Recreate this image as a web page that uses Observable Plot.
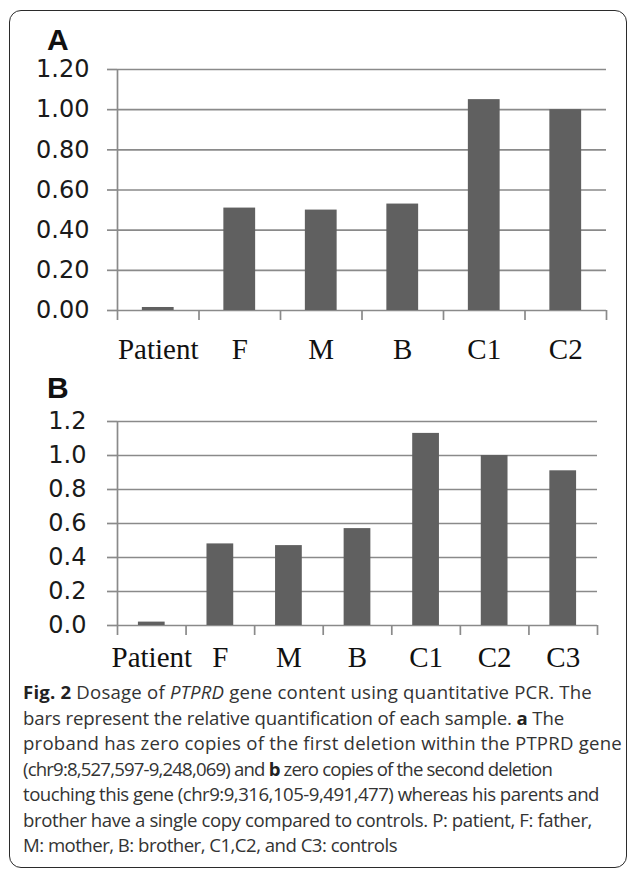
<!DOCTYPE html>
<html>
<head>
<meta charset="utf-8">
<script src="https://cdn.jsdelivr.net/npm/d3@7"></script>
<script src="https://cdn.jsdelivr.net/npm/@observablehq/plot@0.6"></script>
<style>
html, body { margin: 0; padding: 0; background: #fff; width: 627px; height: 872px; overflow: hidden; }
#frame { position: absolute; left: 9px; top: 10px; width: 618px; height: 858px; border: 1.5px solid #2b2b2b; border-radius: 12px; box-sizing: border-box; }
.plab { position: absolute; left: 47px; font-family: "Liberation Sans", Arial, sans-serif; font-weight: bold; font-size: 30px; line-height: 30px; color: #111; }
#panelA { position: absolute; left: 0; top: 0; }
#panelB { position: absolute; left: 0; top: 375px; }
#cap { position: absolute; left: 23px; top: 679px; font-family: "Open Sans", sans-serif; font-size: 18.6px; line-height: 25.5px; color: #333; white-space: nowrap; }
#cap b { font-weight: bold; color: #222; }
#cap span.ln { display: inline-block; }
</style>
</head>
<body>
<div id="frame"></div>
<div id="panelA"></div>
<div id="panelB"></div>
<div class="plab" style="top:25px">A</div>
<div class="plab" style="top:373px">B</div>
<div id="cap">
<div><span class="ln"><b>Fig. 2</b> Dosage of <i>PTPRD</i> gene content using quantitative PCR. The</span></div>
<div><span class="ln">bars represent the relative quantification of each sample. <b>a</b> The</span></div>
<div><span class="ln">proband has zero copies of the first deletion within the PTPRD gene</span></div>
<div><span class="ln">(chr9:8,527,597-9,248,069) and <b>b</b> zero copies of the second deletion</span></div>
<div><span class="ln">touching this gene (chr9:9,316,105-9,491,477) whereas his parents and</span></div>
<div><span class="ln">brother have a single copy compared to controls. P: patient, F: father,</span></div>
<div><span class="ln">M: mother, B: brother, C1,C2, and C3: controls</span></div>
</div>
<script>
const categoriesA = ["Patient", "F", "M", "B", "C1", "C2"];
const valuesA = [0.015, 0.51, 0.50, 0.53, 1.05, 1.00];
const yTicksA = [0, 0.2, 0.4, 0.6, 0.8, 1.0, 1.2];

const categoriesB = ["Patient", "F", "M", "B", "C1", "C2", "C3"];
const valuesB = [0.02, 0.48, 0.47, 0.57, 1.13, 1.00, 0.91];
const yTicksB = [0, 0.2, 0.4, 0.6, 0.8, 1.0, 1.2];

const grid = "#8a8a8a";
const barColor = "#606060";

function panel({categories, values, yTicks, fmt, height, marginTop, marginBottom, marginRight, labelPad, yPad}) {
  const n = categories.length;
  const width = 627, marginLeft = 117;
  const step = (width - marginLeft - marginRight) / n;
  const inset = step * 0.305;
  const data = categories.map((c, i) => ({c, v: values[i], i}));
  return Plot.plot({
    width, height, marginLeft, marginRight, marginTop, marginBottom,
    x: {domain: [0, n]},
    y: {domain: [0, 1.2]},
    style: {background: "transparent", overflow: "visible"},
    marks: [
      Plot.ruleY(yTicks, {stroke: grid, strokeWidth: 1.7}),
      Plot.axisY(yTicks, {tickSize: 10, tickPadding: yPad, stroke: grid, strokeWidth: 1.7,
        tickFormat: fmt, fontSize: 24, fontFamily: "DejaVu Sans", fill: "#1a1a1a", label: null}),
      Plot.ruleX([0], {stroke: grid, strokeWidth: 1.7}),
      Plot.axisX(d3.range(n + 1), {tickSize: 10, tickFormat: () => "", stroke: grid, strokeWidth: 1.7, label: null}),
      Plot.axisX(d3.range(n).map(i => i + 0.5), {tickSize: 0, tickPadding: labelPad,
        tickFormat: t => categories[Math.floor(t)], fontSize: 29, fontFamily: "Liberation Serif",
        fill: "#111", label: null}),
      Plot.rectY(data, {x1: d => d.i, x2: d => d.i + 1, y1: 0, y2: "v", fill: barColor,
        insetLeft: inset, insetRight: inset})
    ]
  });
}

document.getElementById("panelA").appendChild(panel({
  categories: categoriesA, values: valuesA, yTicks: yTicksA, fmt: d3.format(".2f"),
  height: 375, marginTop: 69, marginBottom: 65, marginRight: 21, labelPad: 28, yPad: 18
}));
document.getElementById("panelB").appendChild(panel({
  categories: categoriesB, values: valuesB, yTicks: yTicksB, fmt: d3.format(".1f"),
  height: 310, marginTop: 46, marginBottom: 60, marginRight: 30, labelPad: 21, yPad: 21
}));

// caption: fit each line's width to the reference's line endings (layout only)
const captionLineEnds = [592, 564, 622, 552, 599, 592, 397];
function fitCaption() {
  const capLeft = document.getElementById("cap").getBoundingClientRect().left;
  document.querySelectorAll("#cap span.ln").forEach((el, i) => {
    el.style.letterSpacing = "0px";
    const w = el.getBoundingClientRect().width;
    const target = captionLineEnds[i] - capLeft;
    const n = el.textContent.length;
    el.style.letterSpacing = ((target - w) / n) + "px";
  });
}
fitCaption();
if (document.fonts && document.fonts.ready) document.fonts.ready.then(fitCaption);
</script>
</body>
</html>
